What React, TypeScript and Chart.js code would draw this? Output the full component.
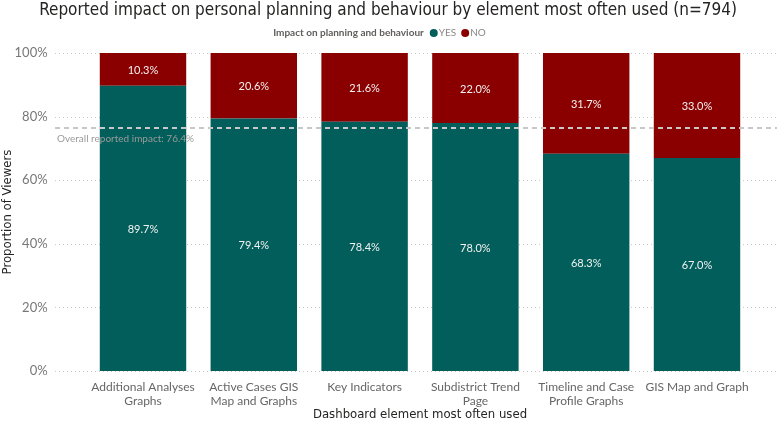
import React, { useEffect, useRef } from "react";
import { Chart, registerables } from "chart.js";

Chart.register(...registerables);

const categories: (string | string[])[] = [
  ["Additional Analyses", "Graphs"],
  ["Active Cases GIS", "Map and Graphs"],
  "Key Indicators",
  ["Subdistrict Trend", "Page"],
  ["Timeline and Case", "Profile Graphs"],
  "GIS Map and Graph",
];
const yesValues = [89.7, 79.4, 78.4, 78.0, 68.3, 67.0];
const noValues = [10.3, 20.6, 21.6, 22.0, 31.7, 33.0];
const overallImpact = 76.4;
const titleText = "Reported impact on personal planning and behaviour by element most often used (n=794)";
const legendTitle = "Impact on planning and behaviour";
const seriesNames = ["YES", "NO"];
const yTicks = [0, 20, 40, 60, 80, 100];

const TEAL = "#015e5a";
const RED = "#8a0000";
const FONT = "Lato, 'Open Sans', sans-serif";
const TITLE_FONT = "'DejaVu Sans Condensed', 'DejaVu Sans', sans-serif";

const overlayPlugin = {
  id: "overlay",
  beforeDatasetsDraw(chart: any) {
    const ctx = chart.ctx;
    const y = chart.scales.y;
    ctx.save();
    ctx.strokeStyle = "#c8c8c8";
    ctx.lineWidth = 1;
    ctx.setLineDash([1, 3]);
    for (const t of yTicks) {
      const py = Math.round(y.getPixelForValue(t)) + 0.5;
      ctx.beginPath();
      ctx.moveTo(55, py);
      ctx.lineTo(chart.width, py);
      ctx.stroke();
    }
    ctx.restore();
  },
  afterDatasetsDraw(chart: any) {
    const ctx = chart.ctx;
    const y = chart.scales.y;
    ctx.save();
    ctx.fillStyle = "#f2f2f2";
    ctx.font = `11px ${FONT}`;
    ctx.textAlign = "center";
    ctx.textBaseline = "middle";
    chart.data.datasets.forEach((ds: any, di: number) => {
      const meta = chart.getDatasetMeta(di);
      meta.data.forEach((el: any, i: number) => {
        const v = ds.data[i];
        const cy = (el.y + el.base) / 2 + 1;
        ctx.fillText(v.toFixed(1) + "%", el.x, cy);
      });
    });
    const ry = y.getPixelForValue(overallImpact);
    ctx.strokeStyle = "#c8c8c8";
    ctx.lineWidth = 2;
    ctx.setLineDash([5, 4]);
    ctx.beginPath();
    ctx.moveTo(55, ry);
    ctx.lineTo(chart.width, ry);
    ctx.stroke();
    ctx.setLineDash([]);
    ctx.fillStyle = "#9a9a9a";
    ctx.font = `10px ${FONT}`;
    ctx.textAlign = "left";
    ctx.textBaseline = "middle";
    ctx.fillText("Overall reported impact: " + overallImpact.toFixed(1) + "%", 57, ry + 11);
    ctx.restore();
  },
  afterDraw(chart: any) {
    const ctx = chart.ctx;
    ctx.save();
    ctx.fillStyle = "#252423";
    ctx.font = `17px ${TITLE_FONT}`;
    ctx.textAlign = "center";
    ctx.textBaseline = "middle";
    ctx.fillText(titleText, 388, 11);
    ctx.font = `bold 10px ${FONT}`;
    const lw = ctx.measureText(legendTitle).width;
    ctx.font = `10px ${FONT}`;
    const yw = ctx.measureText(seriesNames[0]).width;
    const nw = ctx.measureText(seriesNames[1]).width;
    const total = lw + 6 + 10 + yw + 4 + 10 + nw;
    let x = 380 - total / 2;
    const ly = 33;
    ctx.textAlign = "left";
    ctx.font = `bold 10px ${FONT}`;
    ctx.fillStyle = "#605e5c";
    ctx.fillText(legendTitle, x, ly);
    x += lw + 6;
    const colors = [TEAL, RED];
    for (let i = 0; i < 2; i++) {
      ctx.fillStyle = colors[i];
      ctx.beginPath();
      ctx.arc(x + 4, ly, 4, 0, Math.PI * 2);
      ctx.fill();
      x += 9;
      ctx.fillStyle = "#8a8886";
      ctx.font = `10px ${FONT}`;
      ctx.fillText(seriesNames[i], x, ly);
      x += (i === 0 ? yw : nw) + 5;
    }
    ctx.restore();
  },
};

export default function App() {
  const ref = useRef<HTMLCanvasElement>(null);
  useEffect(() => {
    document.body.style.margin = "0";
    const chart = new Chart(ref.current!, {
      type: "bar",
      data: {
        labels: categories,
        datasets: [
          { label: seriesNames[0], data: yesValues, backgroundColor: TEAL, barPercentage: 0.78, categoryPercentage: 1 },
          { label: seriesNames[1], data: noValues, backgroundColor: RED, barPercentage: 0.78, categoryPercentage: 1 },
        ],
      },
      options: {
        animation: false,
        responsive: false,
        devicePixelRatio: 1,
        layout: { padding: { top: 53, right: 24.6, left: 0, bottom: 0 } },
        plugins: { legend: { display: false }, tooltip: { enabled: false }, title: { display: false } },
        scales: {
          x: {
            stacked: true,
            grid: { display: false, drawTicks: false },
            border: { display: false },
            ticks: { color: "#666", font: { family: FONT, size: 12 }, padding: 9, maxRotation: 0, autoSkip: false },
            title: { display: true, text: "Dashboard element most often used", color: "#252423", font: { family: TITLE_FONT, size: 13 }, padding: { top: 0, bottom: 2 } },
            afterFit: (s: any) => { s.height = 53; },
          },
          y: {
            stacked: true,
            min: 0,
            max: 100,
            grid: { display: false, drawTicks: false },
            border: { display: false },
            ticks: { stepSize: 20, color: "#777", font: { family: FONT, size: 13 }, padding: 40, callback: (v: any) => v + "%" },
            title: { display: true, text: "Proportion of Viewers", color: "#252423", font: { family: TITLE_FONT, size: 13 }, padding: 0 },
            afterFit: (s: any) => { s.width = 87.6; },
          },
        },
      },
      plugins: [overlayPlugin],
    });
    return () => chart.destroy();
  }, []);
  return (
    <div style={{ width: 777, height: 424 }}>
      <canvas ref={ref} width={777} height={424} style={{ display: "block" }} />
    </div>
  );
}
